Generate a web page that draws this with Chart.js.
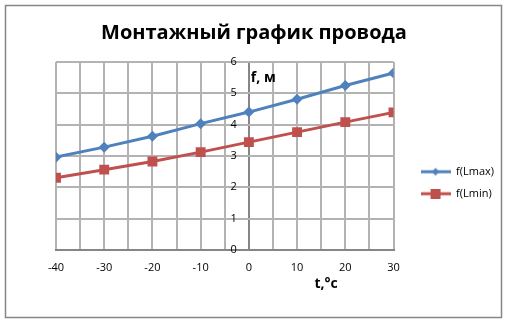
<!DOCTYPE html>
<html>
<head>
<meta charset="utf-8">
<script src="https://cdn.jsdelivr.net/npm/chart.js@4/dist/chart.umd.min.js"></script>
<style>
  html, body { margin: 0; padding: 0; background: #fff; }
</style>
</head>
<body>
<canvas id="chart" width="506" height="322"></canvas>
<script>
// температура, °C
const temps = [-40, -30, -20, -10, 0, 10, 20, 30];
// стрела провеса, м
const fMax = [2.96, 3.28, 3.63, 4.03, 4.40, 4.81, 5.25, 5.65];
const fMin = [2.30, 2.56, 2.82, 3.12, 3.44, 3.76, 4.08, 4.39];
const seriesNames = ['f(Lmax)', 'f(Lmin)'];
const xTickLabels = [-40, -30, -20, -10, 0, 10, 20, 30];
const yTickLabels = [0, 1, 2, 3, 4, 5, 6];

const blue = '#4F81BD';
const red = '#C0504D';
const axisGrey = '#868686';
const gridGrey = '#B3B3B3';

// маленькая картинка "линия + маркер" для легенды
function legendIcon(color, shape) {
  const c = document.createElement('canvas');
  c.width = 30; c.height = 10;
  const g = c.getContext('2d');
  g.strokeStyle = color;
  g.fillStyle = color;
  g.lineWidth = 3;
  g.beginPath(); g.moveTo(0, 5); g.lineTo(30, 5); g.stroke();
  if (shape === 'rect') {
    g.fillRect(10, 0, 10, 10);
  } else {
    g.beginPath();
    g.moveTo(15, 1); g.lineTo(18.5, 5); g.lineTo(15, 9); g.lineTo(11.5, 5);
    g.closePath(); g.fill();
  }
  return c;
}

const frame = {
  id: 'frame',
  beforeDraw(chart) {
    const ctx = chart.ctx;
    ctx.save();
    ctx.fillStyle = '#fff';
    ctx.fillRect(0, 0, chart.width, chart.height);
    ctx.strokeStyle = axisGrey;
    ctx.lineWidth = 1.5;
    ctx.strokeRect(5.5, 5.5, 496, 312);
    ctx.restore();
  }
};

const axisTitles = {
  id: 'axisTitles',
  afterDraw(chart) {
    const {ctx, scales: {x, y}} = chart;
    ctx.save();
    ctx.fillStyle = '#000';
    ctx.font = 'bold 14px "Open Sans"';
    ctx.textBaseline = 'middle';
    ctx.textAlign = 'left';
    ctx.fillText('f, м', x.getPixelForValue(0) + 2, y.getPixelForValue(5.5));
    ctx.textAlign = 'center';
    ctx.fillText('t,°c', x.getPixelForValue(16), y.bottom + 34);
    ctx.restore();
  }
};

// пустые оси, чтобы оставить поля слева и справа от области графика
function spacer(position, size) {
  return {
    type: 'linear',
    position: position,
    display: true,
    ticks: { display: false },
    grid: { display: false },
    border: { display: false },
    afterFit(scale) { scale.width = size; }
  };
}

new Chart(document.getElementById('chart'), {
  type: 'line',
  data: {
    datasets: [
      {
        label: seriesNames[0],
        data: temps.map((t, i) => ({x: t, y: fMax[i]})),
        borderColor: blue,
        backgroundColor: blue,
        borderWidth: 3,
        pointStyle: 'rectRot',
        pointRadius: 5.5,
        pointBorderWidth: 0,
        tension: 0
      },
      {
        label: seriesNames[1],
        data: temps.map((t, i) => ({x: t, y: fMin[i]})),
        borderColor: red,
        backgroundColor: red,
        borderWidth: 3,
        pointStyle: 'rect',
        pointRadius: 7,
        pointBorderWidth: 0,
        tension: 0
      }
    ]
  },
  options: {
    responsive: false,
    animation: false,
    layout: { padding: { left: 4, right: 2, top: 4, bottom: 37 } },
    plugins: {
      title: {
        display: true,
        text: 'Монтажный график провода',
        color: '#000',
        font: { family: 'Open Sans', size: 20, weight: 'bold' },
        padding: { top: 17, bottom: 17 }
      },
      legend: {
        position: 'right',
        align: 'center',
        maxWidth: 200,
        title: { display: true, text: ' ', padding: { top: 0, bottom: 62 } },
        labels: {
          color: '#000',
          font: { family: 'Open Sans', size: 11 },
          usePointStyle: true,
          pointStyleWidth: 30,
          padding: 11,
          generateLabels(chart) {
            return chart.data.datasets.map((ds, i) => ({
              text: ds.label,
              fillStyle: ds.borderColor,
              strokeStyle: ds.borderColor,
              fontColor: '#000',
              pointStyle: legendIcon(ds.borderColor, i === 0 ? 'rectRot' : 'rect'),
              lineWidth: 0,
              hidden: false,
              datasetIndex: i
            }));
          }
        }
      },
      tooltip: { enabled: false }
    },
    scales: {
      x: {
        type: 'linear',
        min: -40,
        max: 30,
        ticks: {
          stepSize: 5,
          color: '#000',
          font: { family: 'Open Sans', size: 11 },
          padding: 11,
          maxRotation: 0,
          autoSkip: false,
          callback: v => xTickLabels.includes(v) ? String(v) : ''
        },
        grid: {
          // линия при t = 0 служит вертикальной осью
          color: c => c.tick && c.tick.value === 0 ? axisGrey : gridGrey,
          lineWidth: 2,
          drawTicks: false
        },
        border: { color: axisGrey, width: 2 }
      },
      y: {
        // подписи прижаты вправо к этой точке, чуть левее линии t = 0
        position: { x: -2.5 },
        min: 0,
        max: 6,
        ticks: {
          stepSize: 1,
          color: '#000',
          font: { family: 'Open Sans', size: 11 },
          autoSkip: false,
          callback: v => yTickLabels.includes(v) ? String(v) : ''
        },
        grid: { color: gridGrey, lineWidth: 2, drawTicks: false },
        border: { display: false }
      },
      padL: spacer('left', 52),
      padR: spacer('right', 16)
    }
  },
  plugins: [frame, axisTitles]
});
</script>
</body>
</html>
